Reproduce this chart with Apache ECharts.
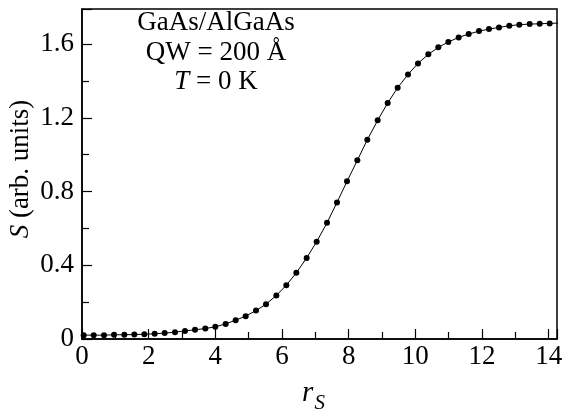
<!DOCTYPE html>
<html>
<head>
<meta charset="utf-8">
<script src="https://cdn.jsdelivr.net/npm/echarts@6/dist/echarts.min.js"></script>
<style>
html,body{margin:0;padding:0;background:#fff;}
#chart{width:562px;height:409px;}
</style>
</head>
<body>
<div id="chart"></div>
<script>
// r_S values of the plotted points
const rsValues = [0.05,0.35,0.66,0.96,1.27,1.57,1.87,2.18,2.48,2.79,3.09,3.39,3.70,4.00,4.31,4.61,4.91,5.22,5.52,5.83,6.13,6.43,6.74,7.04,7.35,7.65,7.95,8.26,8.56,8.87,9.17,9.47,9.78,10.08,10.39,10.69,10.99,11.30,11.60,11.91,12.21,12.51,12.82,13.12,13.43,13.73,14.03,14.34];
// S (arb. units)
const sValues = [0.021,0.021,0.021,0.023,0.023,0.024,0.026,0.028,0.032,0.037,0.044,0.050,0.057,0.066,0.082,0.102,0.124,0.154,0.189,0.236,0.292,0.359,0.440,0.528,0.630,0.741,0.855,0.969,1.081,1.186,1.280,1.363,1.435,1.495,1.544,1.582,1.611,1.636,1.654,1.670,1.681,1.690,1.699,1.705,1.708,1.710,1.712,1.714];
const xTickLabels = ['0','2','4','6','8','10','12','14'];
const yTickLabels = ['0','0.4','0.8','1.2','1.6'];
const annotationLines = ['GaAs/AlGaAs','QW = 200 Å','{i|T} = 0 K'];

const FONT = '"Liberation Serif","Times New Roman",serif';
const data = rsValues.map((x, i) => [x, sValues[i]]);

const chart = echarts.init(document.getElementById('chart'), null, {renderer: 'canvas'});
chart.setOption({
  animation: false,
  backgroundColor: '#fff',
  grid: {
    left: 82, right: 5, top: 9, bottom: 70,
    containLabel: false, outerBoundsMode: 'none',
    show: true, borderColor: '#000', borderWidth: 1.5, backgroundColor: 'transparent'
  },
  xAxis: {
    type: 'value', min: 0, max: 14.25, interval: 2,
    axisLine: {show: true, onZero: false, lineStyle: {color: '#000', width: 1.5}},
    axisTick: {show: true, inside: true, length: 10, lineStyle: {color: '#000', width: 1.2}},
    minorTick: {show: true, splitNumber: 2, length: 7, lineStyle: {color: '#000', width: 1.2}},
    splitLine: {show: false},
    axisLabel: {
      color: '#000', fontFamily: FONT, fontSize: 27, margin: 4, showMaxLabel: false,
      formatter: v => { const i = Math.round(v / 2); return Math.abs(v - i * 2) < 1e-6 ? (xTickLabels[i] || '') : ''; }
    },
    name: '{r|r}{s|S}', nameLocation: 'middle', nameGap: 40, nameMoveOverlap: false,
    nameTextStyle: {
      padding: [0, 12, 0, 0],
      rich: {
        r: {fontFamily: FONT, fontStyle: 'italic', fontSize: 29, color: '#000', verticalAlign: 'bottom', padding: [0, 1, 6, 0]},
        s: {fontFamily: FONT, fontStyle: 'italic', fontSize: 21, color: '#000', verticalAlign: 'bottom'}
      }
    }
  },
  yAxis: {
    type: 'value', min: 0, max: 1.79, interval: 0.4,
    axisLine: {show: true, onZero: false, lineStyle: {color: '#000', width: 1.5}},
    axisTick: {show: true, inside: true, length: 10, lineStyle: {color: '#000', width: 1.2}},
    minorTick: {show: true, splitNumber: 2, length: 7, lineStyle: {color: '#000', width: 1.2}},
    splitLine: {show: false},
    axisLabel: {
      color: '#000', fontFamily: FONT, fontSize: 27, margin: 8, showMaxLabel: false,
      formatter: v => { const i = Math.round(v / 0.4); return Math.abs(v - i * 0.4) < 1e-6 ? (yTickLabels[i] || '') : ''; }
    },
    name: '{i|S} (arb. units)', nameLocation: 'middle', nameRotate: 90, nameGap: 48, nameMoveOverlap: false,
    nameTextStyle: {
      fontFamily: FONT, fontSize: 27, color: '#000', padding: [0, 0, 0, 10],
      rich: {i: {fontFamily: FONT, fontStyle: 'italic', fontSize: 27, color: '#000'}}
    }
  },
  graphic: annotationLines.map((t, k) => ({
    type: 'text', x: 216, y: 23.3 + k * 29.2, silent: true,
    style: {
      text: t, align: 'center', verticalAlign: 'middle',
      fontFamily: FONT, fontSize: 27, fill: '#000',
      rich: {i: {fontFamily: FONT, fontStyle: 'italic', fontSize: 27, fill: '#000'}}
    }
  })),
  series: [{
    type: 'line', data: data, clip: true,
    symbol: 'circle', symbolSize: 6, showSymbol: true,
    itemStyle: {color: '#000'},
    lineStyle: {color: '#000', width: 1}
  }]
});
</script>
</body>
</html>
